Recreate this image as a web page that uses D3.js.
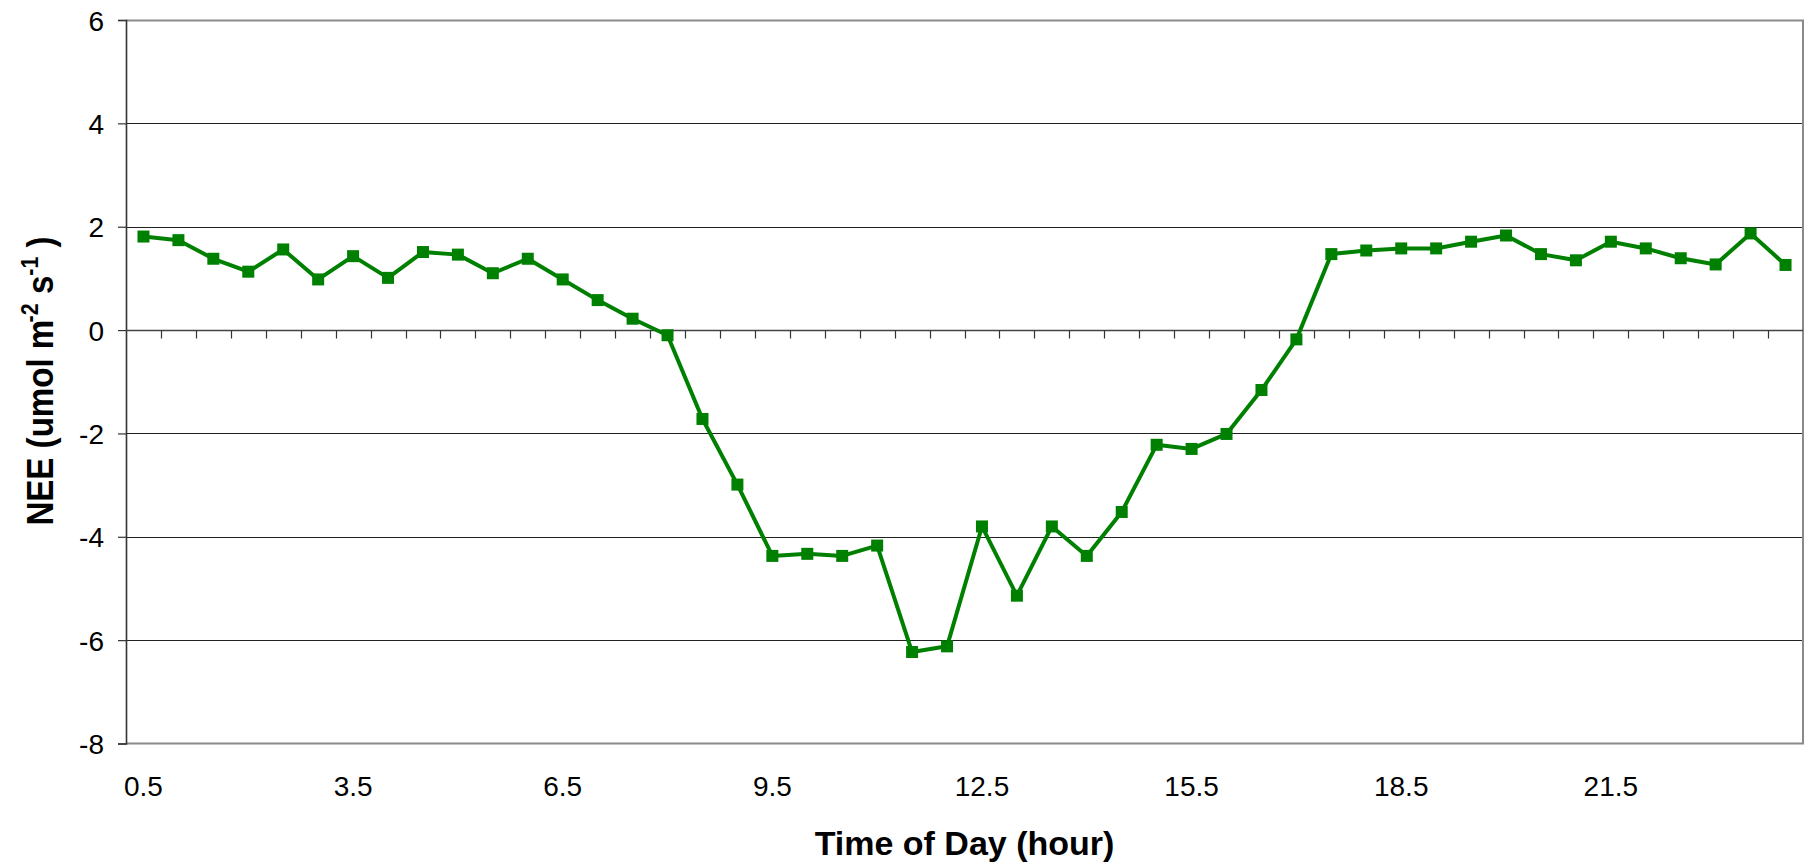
<!DOCTYPE html>
<html>
<head>
<meta charset="utf-8">
<script src="https://cdn.jsdelivr.net/npm/d3@7/dist/d3.min.js"></script>
<style>
  html, body { margin: 0; padding: 0; background: #ffffff; }
  svg { display: block; }
  text { font-family: "Liberation Sans", Arial, sans-serif; fill: #000; }
</style>
</head>
<body>
<svg id="chart" width="1814" height="864"></svg>
<script>
// ---- data ----
const categories = ["0.5","1","1.5","2","2.5","3","3.5","4","4.5","5","5.5","6",
  "6.5","7","7.5","8","8.5","9","9.5","10","10.5","11","11.5","12",
  "12.5","13","13.5","14","14.5","15","15.5","16","16.5","17","17.5","18",
  "18.5","19","19.5","20","20.5","21","21.5","22","22.5","23","23.5","24"];
const neeValues = [1.81, 1.74, 1.38, 1.13, 1.56, 0.98, 1.43, 1.01, 1.51, 1.46, 1.10, 1.38,
  0.98, 0.58, 0.22, -0.10, -1.72, -2.99, -4.37, -4.33, -4.37, -4.17, -6.23, -6.12,
  -3.80, -5.14, -3.80, -4.37, -3.52, -2.22, -2.30, -2.01, -1.16, -0.18, 1.47, 1.54,
  1.58, 1.58, 1.71, 1.83, 1.47, 1.35, 1.71, 1.58, 1.39, 1.27, 1.87, 1.26];
const xTickLabels = ["0.5","3.5","6.5","9.5","12.5","15.5","18.5","21.5"];
const yTicks = [-8, -6, -4, -2, 0, 2, 4, 6];
const xTitle = "Time of Day (hour)";
const yTitleMain = "NEE (umol m";
const yTitleSup1 = "-2";
const yTitleMid = " s";
const yTitleSup2 = "-1";
const yTitleEnd = " )";

// ---- layout ----
const svg = d3.select("#chart");
const L = 126, R = 1803, T = 20, B = 743.5;
const green = "#008000";

const x = d3.scaleBand().domain(categories).range([L, R]).padding(0);
const y = d3.scaleLinear().domain([-8, 6]).range([B, T]);
const cx = c => x(c) + x.bandwidth() / 2;

// gridlines
svg.append("g").selectAll("line")
  .data(yTicks.filter(v => v !== 0 && v !== -8 && v !== 6))
  .join("line")
  .attr("x1", L).attr("x2", R)
  .attr("y1", d => Math.round(y(d)) + 0.5).attr("y2", d => Math.round(y(d)) + 0.5)
  .attr("stroke", "#222").attr("stroke-width", 1.2);

// plot border (top, right, bottom)
svg.append("path")
  .attr("d", `M${L},${T + 0.5}H${R}V${B}H${L}`)
  .attr("fill", "none").attr("stroke", "#8a8a8a").attr("stroke-width", 2);

// y axis
const yAxis = d3.axisLeft(y).tickValues(yTicks).tickSize(8).tickPadding(14)
  .tickFormat(d => String(d));
const gy = svg.append("g").attr("transform", `translate(${L},0)`).call(yAxis);
gy.select(".domain").attr("stroke", "#333").attr("stroke-width", 1.6);
gy.selectAll(".tick line").attr("stroke", "#333").attr("stroke-width", 1.2);
gy.selectAll(".tick text").attr("font-size", 28).attr("fill", "#000")
  .attr("font-family", "'Liberation Sans', Arial, sans-serif")
  .attr("dy", "0.36em");

// x axis on zero line: ticks between categories
const y0 = Math.round(y(0)) + 0.5;
svg.append("line").attr("x1", L).attr("x2", R).attr("y1", y0).attr("y2", y0)
  .attr("stroke", "#444").attr("stroke-width", 1.6);
svg.append("g").selectAll("line")
  .data(categories.slice(1))
  .join("line")
  .attr("x1", d => Math.round(x(d)) + 0.5).attr("x2", d => Math.round(x(d)) + 0.5)
  .attr("y1", y0).attr("y2", y0 + 8)
  .attr("stroke", "#333").attr("stroke-width", 1.2);

// x tick labels
svg.append("g").selectAll("text")
  .data(xTickLabels)
  .join("text")
  .attr("x", d => cx(d))
  .attr("y", 796)
  .attr("text-anchor", "middle")
  .attr("font-size", 28)
  .text(d => d);

// series line
const pts = categories.map((c, i) => ({ c, v: neeValues[i] }));
svg.append("path")
  .datum(pts)
  .attr("fill", "none")
  .attr("stroke", green)
  .attr("stroke-width", 4)
  .attr("stroke-linejoin", "round")
  .attr("d", d3.line().x(d => cx(d.c)).y(d => y(d.v)));

// markers
const ms = 12;
svg.append("g").selectAll("rect")
  .data(pts)
  .join("rect")
  .attr("x", d => cx(d.c) - ms / 2)
  .attr("y", d => y(d.v) - ms / 2)
  .attr("width", ms).attr("height", ms)
  .attr("fill", green);

// x title
svg.append("text")
  .attr("x", (L + R) / 2)
  .attr("y", 855)
  .attr("text-anchor", "middle")
  .attr("font-size", 34)
  .attr("font-weight", "bold")
  .text(xTitle);

// y title
const yt = svg.append("g").attr("transform", "translate(53,381) rotate(-90)");
const ytxt = yt.append("text")
  .attr("text-anchor", "middle")
  .attr("font-size", 37)
  .attr("font-weight", "bold");
ytxt.append("tspan").text(yTitleMain);
ytxt.append("tspan").attr("font-size", 24).attr("dy", -15).attr("dx", -3).text(yTitleSup1);
ytxt.append("tspan").attr("dy", 15).text(yTitleMid);
ytxt.append("tspan").attr("font-size", 24).attr("dy", -15).text(yTitleSup2);
ytxt.append("tspan").attr("dy", 15).text(yTitleEnd);
const len = ytxt.node().getComputedTextLength();
const target = 292;
ytxt.attr("transform", `scale(${target / len},1)`);
</script>
</body>
</html>
